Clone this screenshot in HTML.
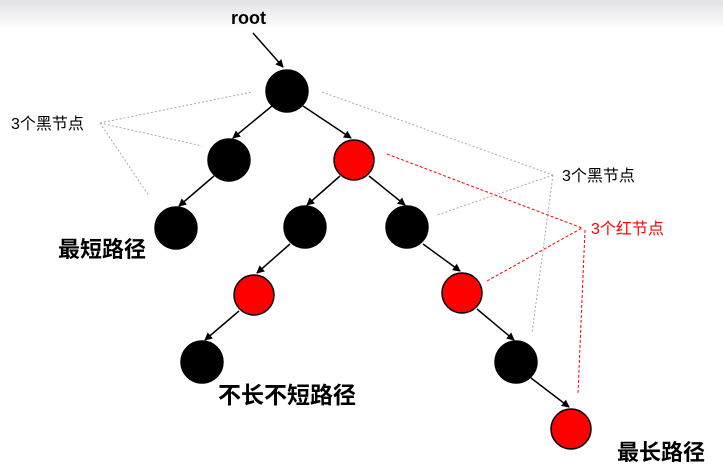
<!DOCTYPE html>
<html><head><meta charset="utf-8"><style>
body{margin:0;background:#fff;}
svg{display:block}
</style></head><body>
<svg width="723" height="468" viewBox="0 0 723 468" xmlns="http://www.w3.org/2000/svg">
<defs>
<linearGradient id="g" x1="0" y1="0" x2="0" y2="1"><stop offset="0" stop-color="#e6e6ea"/><stop offset="1" stop-color="#fff"/></linearGradient>
<marker id="a" markerWidth="8" markerHeight="8" refX="7" refY="4" orient="auto" markerUnits="userSpaceOnUse"><path d="M0,0 L8,4 L0,8 z" fill="#000"/></marker>
</defs>
<rect x="0" y="0" width="723" height="4" fill="#e4e4e8"/>
<rect x="0" y="4" width="723" height="26" fill="url(#g)"/>
<g stroke="#aaa" stroke-width="1" stroke-dasharray="2,2" fill="none">
<line x1="100" y1="123" x2="252" y2="92"/>
<line x1="100" y1="123" x2="202" y2="146"/>
<line x1="100" y1="123" x2="149" y2="196"/>
<line x1="322" y1="92" x2="553" y2="175"/>
<line x1="553" y1="175" x2="437" y2="215"/>
<line x1="553" y1="175" x2="532" y2="333"/>
</g>
<g stroke="#f00" stroke-width="1" stroke-dasharray="3,2" fill="none">
<line x1="387" y1="154" x2="582" y2="228"/>
<line x1="487" y1="281" x2="582" y2="228"/>
<line x1="585" y1="230" x2="578" y2="393"/>
</g>
<g stroke="#000" stroke-width="1.5" marker-end="url(#a)">
<line x1="253" y1="33" x2="283" y2="67"/>
<line x1="272" y1="106" x2="233" y2="138"/>
<line x1="303" y1="106" x2="351" y2="138"/>
<line x1="214" y1="176" x2="179" y2="206"/>
<line x1="340" y1="176" x2="307" y2="205"/>
<line x1="369" y1="176" x2="405" y2="205"/>
<line x1="290" y1="244" x2="257" y2="273"/>
<line x1="423" y1="244" x2="460" y2="271"/>
<line x1="239" y1="311" x2="205" y2="340"/>
<line x1="477" y1="309" x2="514" y2="340"/>
<line x1="531" y1="378" x2="569" y2="407"/>
</g>
<g stroke="#000" stroke-width="1.5">
<circle cx="287" cy="91" r="21" fill="#000"/>
<circle cx="229" cy="160" r="21" fill="#000"/>
<circle cx="354" cy="160" r="20" fill="#f00"/>
<circle cx="176" cy="228" r="21" fill="#000"/>
<circle cx="305" cy="227" r="21" fill="#000"/>
<circle cx="407" cy="227" r="21" fill="#000"/>
<circle cx="254" cy="295" r="20" fill="#f00"/>
<circle cx="462" cy="293" r="20" fill="#f00"/>
<circle cx="202" cy="362" r="21" fill="#000"/>
<circle cx="516" cy="362" r="21" fill="#000"/>
<circle cx="571" cy="429" r="20" fill="#f00"/>
</g>
<g font-family="Liberation Sans, Noto Sans CJK SC, sans-serif">
<text x="231" y="24" font-size="18" font-weight="bold">root</text>
<text x="11" y="129" font-size="16">3个黑节点</text>
<text x="562" y="181" font-size="16">3个黑节点</text>
<text x="591" y="234" font-size="16" fill="#f00">3个红节点</text>
<text x="58" y="257" font-size="22" font-weight="bold">最短路径</text>
<text x="218" y="403" font-size="23" font-weight="bold">不长不短路径</text>
<text x="617" y="460" font-size="22" font-weight="bold">最长路径</text>
</g>
</svg>
</body></html>
